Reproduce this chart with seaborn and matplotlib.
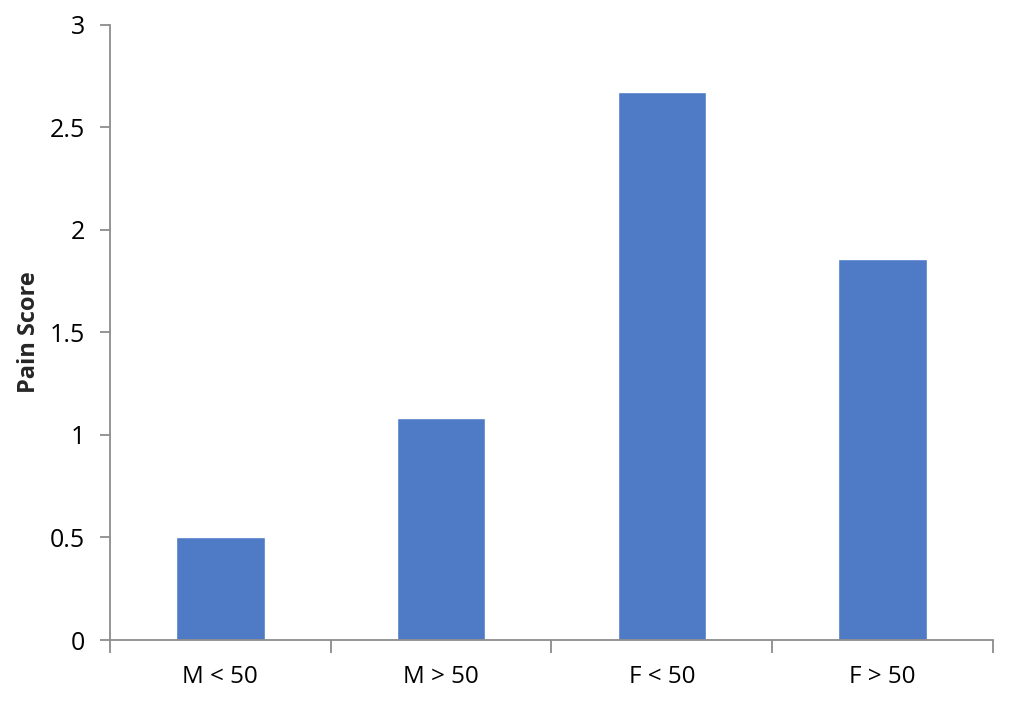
import matplotlib
matplotlib.use('Agg')
import matplotlib.pyplot as plt
import pandas as pd
import seaborn as sns

# Values
groups = ['M < 50', 'M > 50', 'F < 50', 'F > 50']
pain_scores = [0.50, 1.08, 2.67, 1.857]
y_ticks = [0, 0.5, 1, 1.5, 2, 2.5, 3]
y_tick_labels = ['0', '0.5', '1', '1.5', '2', '2.5', '3']

sns.set_theme(style='white')
plt.rcParams['font.family'] = ['Open Sans', 'DejaVu Sans']

df = pd.DataFrame({'group': groups, 'score': pain_scores})

fig = plt.figure(figsize=(10.1, 7.01), dpi=100)
ax = fig.add_axes([0.1089, 0.087, 0.8742, 0.878])

sns.barplot(data=df, x='group', y='score', color='#4e7ac6', saturation=1,
            width=0.4, ax=ax)

axis_grey = '#8c8c8c'
ax.set_xlim(-0.5, len(groups) - 0.5)
ax.set_ylim(0, 3)
ax.set_yticks(y_ticks)
ax.set_yticklabels(y_tick_labels)

# category boundary ticks, as in the original spreadsheet chart
ax.set_xticks([i - 0.5 for i in range(len(groups) + 1)], minor=True)
ax.tick_params(axis='x', which='major', length=0, pad=18, labelsize=17.5,
               colors='black')
ax.tick_params(axis='x', which='minor', bottom=True, length=9, width=1.3,
               color=axis_grey, direction='out')
ax.tick_params(axis='y', left=True, length=7, width=1.3, color=axis_grey,
               direction='out', pad=11, labelsize=18, labelcolor='black')

for side in ['top', 'right']:
    ax.spines[side].set_visible(False)
for side in ['left', 'bottom']:
    ax.spines[side].set_color(axis_grey)
    ax.spines[side].set_linewidth(1.3)

ax.set_xlabel('')
ax.set_ylabel('Pain Score', fontsize=17, fontweight='bold')
ax.yaxis.set_label_coords(-0.078, 0.5)

fig.savefig('out.png', dpi=100, facecolor='white')
